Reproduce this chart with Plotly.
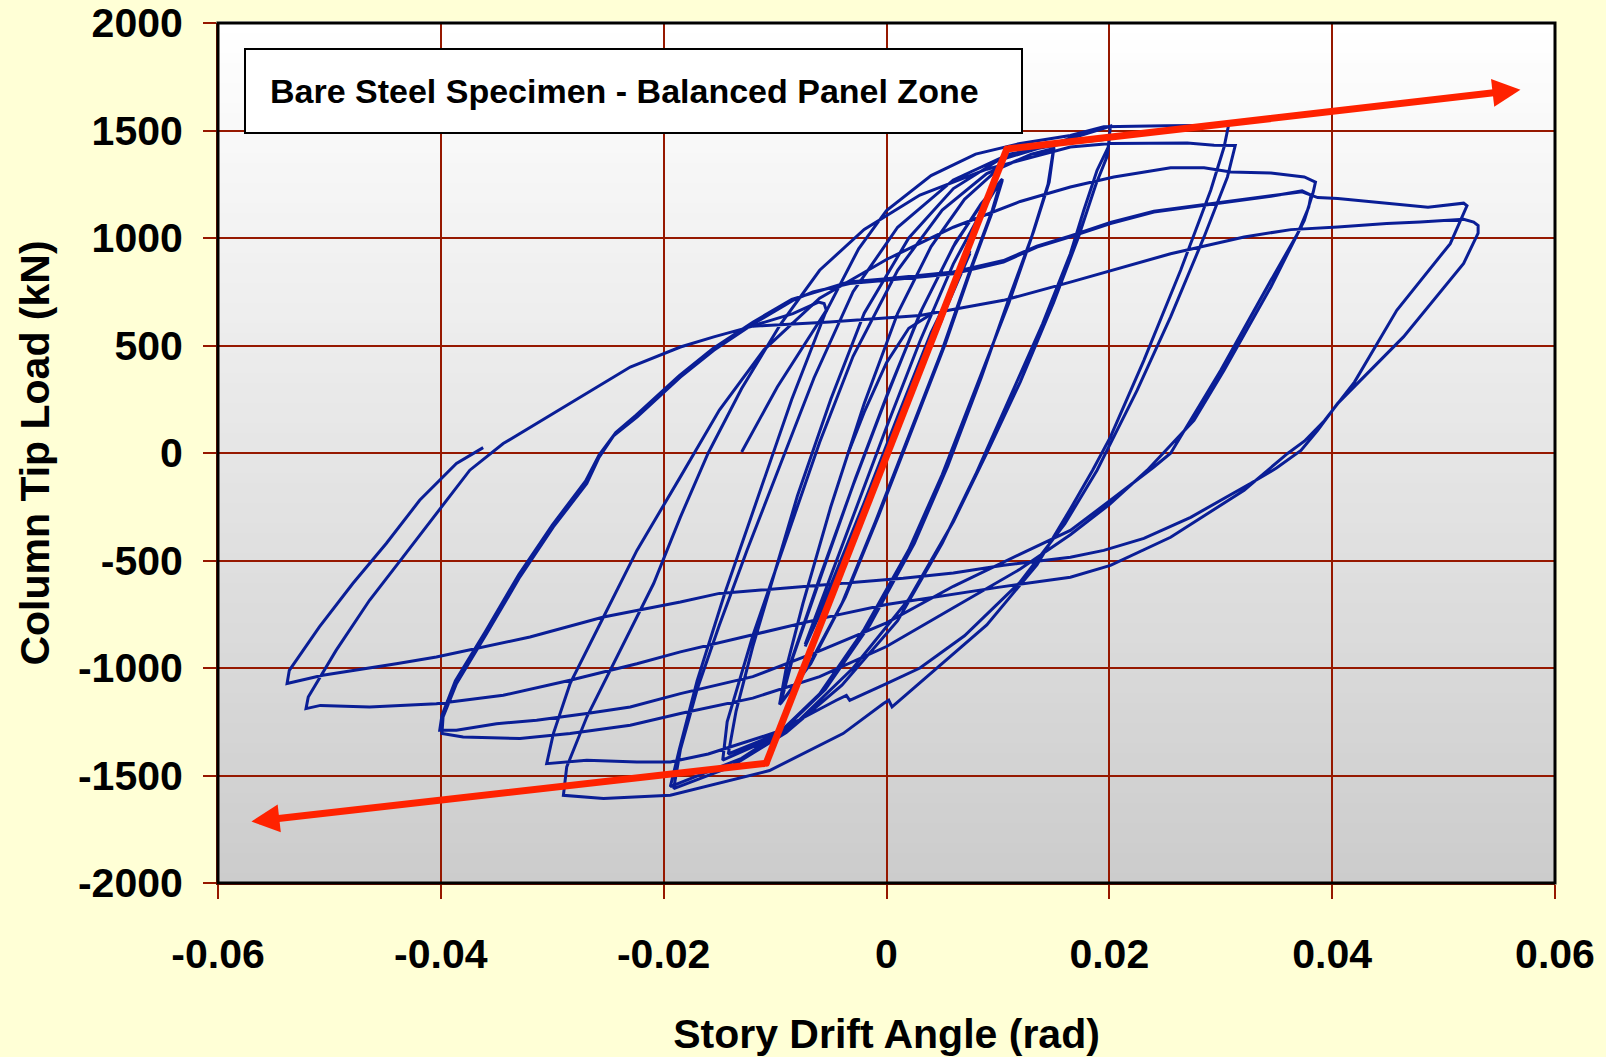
import plotly.graph_objects as go

# ---------------- data (story drift angle [rad], column tip load [kN]) ----------------
loop_small = [(0, 0), (0.002, 260), (0.0038, 480), (0.0025, 320), (0, -20), (-0.002, -280), (-0.0037, -470),
              (-0.0025, -320), (0, 10), (0.002, 260), (0.0038, 475), (0.0026, 330), (0, -10), (-0.0037, -465),
              (-0.0024, -300), (0, 20), (0.0025, 330), (0.005, 630), (0.0035, 450), (0.001, 130), (-0.002, -260),
              (-0.005, -620), (-0.0035, -440), (-0.001, -110), (0.002, 270), (0.005, 625), (0.0034, 430), (0, -10),
              (-0.005, -615), (-0.0034, -420), (0, 20), (0.003, 400), (0.0075, 940), (0.0055, 700), (0.002, 250),
              (-0.001, -150), (-0.0045, -580), (-0.0073, -900), (-0.0052, -640), (-0.002, -230), (0.001, 170),
              (0.004, 560), (0.0075, 930), (0.0054, 680), (0.002, 240), (-0.002, -260), (-0.0073, -890)]

loop_010 = [(-0.0055, -640), (-0.003, -300), (0, 120), (0.003, 520), (0.006, 880), (0.0085, 1120), (0.0103, 1270),
            (0.0095, 1130), (0.0075, 850), (0.005, 480), (0.002, 80), (-0.001, -320), (-0.004, -700), (-0.007, -990),
            (-0.0096, -1170), (-0.0085, -960), (-0.006, -580), (-0.003, -150), (0, 260), (0.003, 650), (0.006, 960),
            (0.0085, 1160), (0.0104, 1275), (0.0096, 1140), (0.0076, 860), (0.0052, 500), (0.0022, 100),
            (-0.0008, -300), (-0.0038, -680), (-0.0068, -980), (-0.0095, -1165), (-0.0084, -950), (-0.0058, -560),
            (-0.0028, -120), (0.0002, 290), (0.0032, 670), (0.0062, 980), (0.0087, 1170), (0.0104, 1270),
            (0.0097, 1150), (0.0077, 870), (0.0053, 510), (0.0023, 110), (-0.0007, -290), (-0.0037, -670),
            (-0.0067, -970), (-0.0096, -1170)]

loop_015 = [(-0.009, -1000), (-0.0075, -700), (-0.005, -250), (-0.002, 230), (0.001, 650), (0.004, 960),
            (0.007, 1180), (0.010, 1320), (0.013, 1390), (0.015, 1416), (0.0145, 1250), (0.013, 1000), (0.011, 700),
            (0.008, 300), (0.005, -100), (0.002, -450), (-0.002, -820), (-0.006, -1120), (-0.010, -1320),
            (-0.0147, -1429), (-0.0143, -1250), (-0.012, -850), (-0.009, -400), (-0.006, 50), (-0.003, 450),
            (0.001, 850), (0.005, 1130), (0.009, 1300), (0.013, 1390), (0.015, 1410), (0.0146, 1260),
            (0.0132, 1030), (0.011, 720), (0.0085, 350), (0.0055, -60), (0.0025, -420), (-0.0015, -800),
            (-0.0055, -1100), (-0.0095, -1300), (-0.0142, -1400)]

loop_020 = [(-0.0135, -1200), (-0.012, -900), (-0.010, -550), (-0.008, -200), (-0.005, 250), (-0.002, 650),
            (0.002, 1000), (0.006, 1230), (0.010, 1360), (0.015, 1440), (0.0201, 1520), (0.0199, 1423),
            (0.0189, 1315), (0.0177, 1128), (0.0165, 927), (0.014, 600), (0.011, 250), (0.008, -100), (0.005, -420),
            (0.001, -780), (-0.004, -1080), (-0.009, -1300), (-0.014, -1460), (-0.0191, -1561), (-0.0185, -1380),
            (-0.017, -1100), (-0.015, -800), (-0.0125, -450), (-0.0095, -50), (-0.0065, 350), (-0.003, 750),
            (0.001, 1050), (0.006, 1270), (0.011, 1390), (0.016, 1440), (0.0200, 1460), (0.0198, 1380),
            (0.0188, 1250), (0.0172, 1000), (0.015, 700), (0.012, 330), (0.009, 0), (0.006, -320), (0.002, -680),
            (-0.003, -1000), (-0.008, -1250), (-0.013, -1420), (-0.0194, -1552)]

loop_030 = [(-0.0186, -1380), (-0.017, -1060), (-0.0145, -650), (-0.0115, -200), (-0.0085, 250), (-0.0055, 650),
            (-0.0025, 950), (0, 1128), (0.004, 1290), (0.008, 1390), (0.012, 1440), (0.0165, 1477), (0.0195, 1517),
            (0.025, 1522), (0.0307, 1524), (0.0303, 1423), (0.0291, 1222), (0.0264, 850), (0.0231, 431),
            (0.0201, 75), (0.0185, -80), (0.0165, -260), (0.0135, -520), (0.009, -800), (0.0045, -1000),
            (0.0005, -1181), (0.0002, -1150), (-0.0003, -1166), (-0.0039, -1305), (-0.0105, -1477),
            (-0.0194, -1592), (-0.0254, -1607), (-0.029, -1592), (-0.0287, -1460), (-0.0269, -1228),
            (-0.0239, -918), (-0.0209, -607), (-0.0185, -298), (-0.016, 0), (-0.013, 300), (-0.0095, 600),
            (-0.006, 850), (-0.002, 1040), (0.003, 1200), (0.009, 1320), (0.0165, 1423), (0.0201, 1440),
            (0.027, 1442), (0.0294, 1431), (0.0313, 1430), (0.0306, 1284), (0.0285, 1005), (0.0255, 633),
            (0.0225, 292), (0.0189, -80), (0.016, -330), (0.012, -600), (0.007, -850), (0.003, -1000), (0, -1073),
            (-0.0033, -1150), (-0.0036, -1127), (-0.0045, -1150), (-0.010, -1300), (-0.016, -1400),
            (-0.0194, -1437), (-0.0224, -1437), (-0.0269, -1429), (-0.0305, -1445)]

loop_040 = [(-0.0299, -1305), (-0.0284, -1073), (-0.0254, -763), (-0.0224, -453), (-0.0185, -111), (-0.015, 200),
            (-0.011, 480), (-0.006, 720), (0, 900), (0.006, 1050), (0.012, 1170), (0.0165, 1237), (0.0204, 1284),
            (0.0255, 1327), (0.0285, 1327), (0.0309, 1307), (0.0345, 1302), (0.0375, 1284), (0.0385, 1260),
            (0.0383, 1214), (0.0375, 1082), (0.0345, 772), (0.0303, 385), (0.0276, 152), (0.0234, -80),
            (0.020, -240), (0.0165, -380), (0.012, -540), (0.006, -720), (0, -900), (-0.006, -1040),
            (-0.012, -1140), (-0.0185, -1212), (-0.023, -1266), (-0.0284, -1305), (-0.0329, -1328),
            (-0.038, -1321), (-0.0399, -1305), (-0.0398, -1228), (-0.0386, -1073), (-0.0359, -841),
            (-0.0329, -576), (-0.0299, -344), (-0.0269, -142), (-0.0258, -20), (-0.0245, 80), (-0.0224, 167),
            (-0.0185, 353), (-0.0155, 478), (-0.0119, 602), (-0.0084, 710), (-0.0066, 749), (-0.0033, 788),
            (0, 803), (0.006, 834), (0.0105, 888), (0.0135, 958), (0.0165, 1005), (0.0201, 1067), (0.024, 1121),
            (0.0285, 1152), (0.0345, 1194), (0.0373, 1219), (0.0381, 1199), (0.0379, 1144), (0.0369, 1021),
            (0.0345, 803), (0.030, 385), (0.0255, -1), (0.024, -65), (0.0201, -220), (0.0165, -360),
            (0.012, -470), (0.006, -620), (0, -790), (-0.006, -920), (-0.012, -1040), (-0.0185, -1119),
            (-0.023, -1181), (-0.0269, -1212), (-0.0314, -1243), (-0.035, -1259), (-0.0386, -1290),
            (-0.0401, -1290)]

loop_050 = [(-0.0399, -1220), (-0.0387, -1060), (-0.036, -830), (-0.033, -565), (-0.030, -335), (-0.027, -130),
            (-0.0258, -10), (-0.0243, 95), (-0.0225, 175), (-0.0186, 360), (-0.0156, 485), (-0.012, 608),
            (-0.0085, 715), (-0.0034, 795), (0, 810), (0.006, 842), (0.0105, 895), (0.0135, 962), (0.0165, 1010),
            (0.0201, 1072), (0.024, 1124), (0.0285, 1156), (0.0345, 1197), (0.0373, 1215), (0.0387, 1188),
            (0.0405, 1184), (0.0486, 1143), (0.0518, 1162), (0.0521, 1150), (0.0506, 974), (0.0458, 664),
            (0.042, 330), (0.0393, 150), (0.0375, 55), (0.036, -2), (0.0321, -173), (0.0255, -392),
            (0.0201, -523), (0.0165, -578), (0.010, -625), (0.005, -665), (0, -705), (-0.005, -760),
            (-0.010, -820), (-0.0185, -925), (-0.0224, -980), (-0.0284, -1057), (-0.0344, -1127),
            (-0.0404, -1166), (-0.0464, -1181), (-0.0508, -1174), (-0.0521, -1189), (-0.0519, -1135),
            (-0.0494, -918), (-0.0464, -685), (-0.0434, -484), (-0.0404, -282), (-0.0374, -80), (-0.0344, 44),
            (-0.0284, 230), (-0.023, 400), (-0.0185, 493), (-0.0155, 540), (-0.012, 590), (-0.0051, 609),
            (0.003, 640), (0.0105, 710), (0.0165, 795), (0.0255, 927), (0.0321, 1005), (0.0363, 1039),
            (0.0405, 1051), (0.0449, 1067), (0.0479, 1074), (0.0518, 1087), (0.0527, 1074), (0.0531, 1058),
            (0.0531, 1022), (0.0518, 882), (0.0464, 540), (0.0405, 231), (0.0387, 106), (0.0372, 12),
            (0.035, -70), (0.0327, -141), (0.0273, -299), (0.0231, -397), (0.0195, -453), (0.0165, -485),
            (0.0105, -522), (0.006, -558), (0.0015, -583), (-0.0075, -623), (-0.015, -653), (-0.0185, -693),
            (-0.0254, -763), (-0.032, -856), (-0.0368, -909), (-0.0404, -949), (-0.044, -980), (-0.0506, -1034),
            (-0.0538, -1072), (-0.0536, -1011), (-0.0509, -809), (-0.0479, -607), (-0.0449, -421),
            (-0.0419, -220), (-0.0386, -49), (-0.0362, 25)]

stub_hook = [(-0.012, 592), (-0.0084, 648), (-0.0061, 702), (-0.0056, 695), (-0.0054, 664), (-0.0075, 493),
             (-0.0098, 307), (-0.013, 5)]
stub_restart = [(-0.0034, 5), (-0.002, 190), (0.0, 420), (0.002, 580), (0.004, 645)]

# bilinear idealisation (red): arrow tip, corner, corner, arrow tip
bilinear_drift = [-0.0570, -0.0108, 0.0108, 0.0569]
bilinear_load = [-1714, -1443, 1414, 1690]

drift_ticks = [-0.06, -0.04, -0.02, 0, 0.02, 0.04, 0.06]
drift_tick_labels = ["-0.06", "-0.04", "-0.02", "0", "0.02", "0.04", "0.06"]
load_ticks = [-2000, -1500, -1000, -500, 0, 500, 1000, 1500, 2000]
load_tick_labels = ["-2000", "-1500", "-1000", "-500", "0", "500", "1000", "1500", "2000"]

# ---------------- styling ----------------
W, H = 1606, 1057
ML, MR, MT, MB = 218, 51, 23, 174
FONT = "Liberation Sans, Arial, sans-serif"
GRID = "#961800"
BLUE = "#0A1E96"
RED = "#FF2200"
PAPER = "#FFFFD6"

fig = go.Figure()

xs, ys = [], []
main_path = loop_small + loop_010 + loop_015 + loop_020 + loop_030 + loop_040 + loop_050
for seg in (main_path, stub_hook, stub_restart):
    if xs:
        xs.append(None)
        ys.append(None)
    xs += [p[0] for p in seg]
    ys += [p[1] for p in seg]

fig.add_trace(go.Scatter(x=xs, y=ys, mode="lines", line=dict(color=BLUE, width=3),
                         hoverinfo="skip", showlegend=False, connectgaps=False))

fig.add_trace(go.Scatter(x=bilinear_drift[1:3], y=bilinear_load[1:3], mode="lines+markers",
                         line=dict(color=RED, width=7), marker=dict(size=7, color=RED),
                         hoverinfo="skip", showlegend=False))

for tip, corner in ((0, 1), (3, 2)):
    fig.add_annotation(x=bilinear_drift[tip], y=bilinear_load[tip],
                       ax=bilinear_drift[corner], ay=bilinear_load[corner],
                       xref="x", yref="y", axref="x", ayref="y", text="",
                       showarrow=True, arrowhead=2, arrowsize=0.8, arrowwidth=7, arrowcolor=RED)

shapes = []
N = 86
for i in range(N):
    t = (i + 0.5) / N
    v = int(round(204 + 51 * t))
    shapes.append(dict(type="rect", xref="x domain", yref="y domain", x0=0, x1=1,
                       y0=i / N, y1=(i + 1) / N + 0.002, fillcolor=f"rgb({v},{v},{v})",
                       line=dict(width=0), layer="below"))
# plot border
shapes.append(dict(type="rect", xref="x domain", yref="y domain", x0=0, x1=1, y0=0, y1=1,
                   line=dict(color="black", width=3), fillcolor="rgba(0,0,0,0)", layer="above"))

pw, ph = W - ML - MR, H - MT - MB
def px(xp):
    return (xp - ML) / pw
def py(yp):
    return (H - MB - yp) / ph

# title box
shapes.append(dict(type="rect", xref="paper", yref="paper", x0=px(245), x1=px(1022), y0=py(133), y1=py(49),
                   fillcolor="white", line=dict(color="black", width=2), layer="above"))
fig.add_annotation(x=px(624.5), y=py(91), xref="paper", yref="paper", xanchor="center", yanchor="middle",
                   text="Bare Steel Specimen - Balanced Panel Zone", showarrow=False,
                   font=dict(family=FONT, size=34, color="black", weight="bold"))

tickfont = dict(family=FONT, size=41, color="black", weight="bold")
titlefont = dict(family=FONT, size=41, color="black", weight="bold")

fig.update_layout(
    width=W, height=H, autosize=False,
    margin=dict(l=ML, r=MR, t=MT, b=MB),
    paper_bgcolor=PAPER, plot_bgcolor="white",
    shapes=shapes,
    xaxis=dict(range=[-0.06, 0.06], tickmode="array", tickvals=drift_ticks, ticktext=drift_tick_labels,
               showgrid=True, gridcolor=GRID, gridwidth=2, zeroline=False,
               showline=True, linecolor=GRID, linewidth=2, mirror=False,
               ticks="outside", ticklen=14, tickwidth=2, tickcolor=GRID,
               tickfont=tickfont, ticklabelstandoff=20,
               title=dict(text="Story Drift Angle (rad)", font=titlefont, standoff=44),
               automargin=False),
    yaxis=dict(range=[-2000, 2000], tickmode="array", tickvals=load_ticks, ticktext=load_tick_labels,
               showgrid=True, gridcolor=GRID, gridwidth=2, zeroline=False,
               showline=True, linecolor=GRID, linewidth=2,
               ticks="outside", ticklen=13, tickwidth=2, tickcolor=GRID,
               tickfont=tickfont, ticklabelstandoff=12,
               title=dict(text="Column Tip Load (kN)", font=titlefont, standoff=16),
               automargin=False),
    showlegend=False,
)

fig.write_html("out.html", config={"displayModeBar": False, "staticPlot": True},
               post_script="document.body.style.margin='0';document.body.style.overflow='hidden';"
                           "document.body.style.background='" + PAPER + "';")
